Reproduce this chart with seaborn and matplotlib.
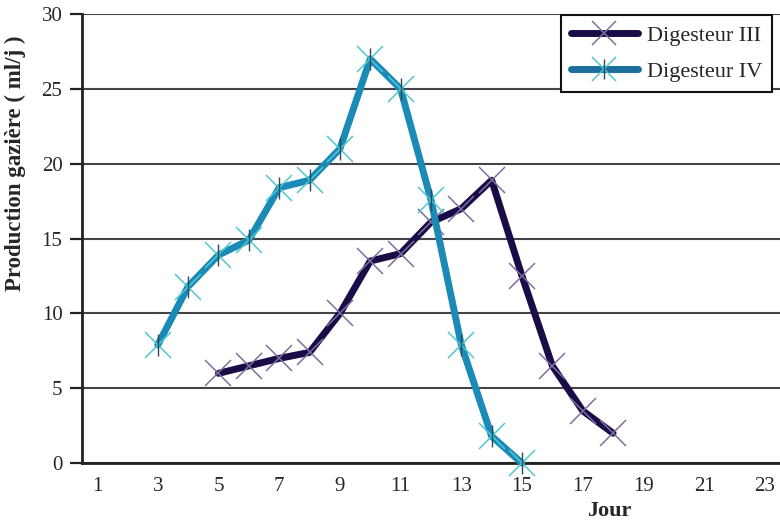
import numpy as np
import pandas as pd
import matplotlib
matplotlib.use("Agg")
import matplotlib.pyplot as plt
import seaborn as sns
from matplotlib.lines import Line2D
from matplotlib.legend_handler import HandlerTuple

# values
days_iii = [5, 6, 7, 8, 9, 10, 11, 12, 13, 14, 15, 16, 17, 18]
prod_iii = [6, 6.5, 7, 7.4, 10, 13.5, 14, 16.1, 17, 18.9, 12.5, 6.5, 3.5, 2]
days_iv = [3, 4, 5, 6, 7, 8, 9, 10, 11, 12, 13, 14, 15]
prod_iv = [7.9, 11.8, 13.9, 14.9, 18.4, 18.9, 21, 27, 25, 17.6, 7.9, 1.8, 0]
x_labels = [1, 3, 5, 7, 9, 11, 13, 15, 17, 19, 21, 23]

df_iii = pd.DataFrame({"Jour": days_iii, "Production": prod_iii})
df_iv = pd.DataFrame({"Jour": days_iv, "Production": prod_iv})

sns.set_style("white")
plt.rcParams["font.family"] = ["Liberation Serif", "DejaVu Serif"]

fig = plt.figure(figsize=(7.8, 5.21), dpi=100)
ax = fig.add_axes([0.105, 0.111, 0.895, 0.862])

col_iii, mk_iii = "#1b0c48", "#7e6fa0"
col_iv, mk_iv = "#1c8ab6", "#4ec8d2"

sns.lineplot(data=df_iii, x="Jour", y="Production", ax=ax, color=col_iii, lw=5,
             marker="x", markersize=19, markeredgewidth=1.1, markeredgecolor=mk_iii,
             clip_on=False, zorder=3)
sns.lineplot(data=df_iv, x="Jour", y="Production", ax=ax, color=col_iv, lw=5,
             marker="x", markersize=19, markeredgewidth=1.1, markeredgecolor=mk_iv,
             clip_on=False, zorder=4)
ax.plot(df_iv["Jour"], df_iv["Production"], ls="none", marker="|", markersize=16,
        markeredgewidth=1.0, color="#2a4a58", clip_on=False, zorder=5)

ax.set_xlim(0.5, 23.39)
ax.set_ylim(0, 30)
ax.set_yticks(np.arange(0, 31, 5))
ax.set_xticks(x_labels)
ax.set_xticks(np.arange(0.5, 24, 1), minor=True)
ax.tick_params(axis="x", which="major", length=0, pad=10, labelsize=15)
ax.tick_params(axis="x", which="minor", length=9, width=1.6, color="#222222", direction="out")
ax.tick_params(axis="y", length=9, width=1.6, color="#222222", pad=5, labelsize=15, left=True)

ax.grid(axis="y", color="#444444", lw=1.5)
ax.grid(axis="x", visible=False)
for s in ["top", "right"]:
    ax.spines[s].set_visible(False)
for s in ["left", "bottom"]:
    ax.spines[s].set_color("#222222")
    ax.spines[s].set_linewidth(2)
ax.set_axisbelow(True)

ax.set_ylabel("Production gazière ( ml/j )", fontsize=16.5, fontweight="bold")
ax.yaxis.set_label_coords(-0.08, 0.668)
ax.set_xlabel("Jour", fontsize=16, fontweight="bold")
ax.xaxis.set_label_coords(0.756, -0.085)

h_iii = Line2D([], [], color=col_iii, lw=5, marker="x", markersize=17,
               markeredgewidth=1.1, markeredgecolor=mk_iii)
h_iv = Line2D([], [], color="#1a6f9c", lw=5, marker="x", markersize=17,
              markeredgewidth=1.1, markeredgecolor=mk_iv)
h_iv_bar = Line2D([], [], ls="none", marker="|", markersize=15,
                  markeredgewidth=1.0, color="#2a4a58")
leg = ax.legend([h_iii, (h_iv, h_iv_bar)], ["Digesteur III", "Digesteur IV"],
                handler_map={tuple: HandlerTuple(ndivide=1)},
                loc="upper right", bbox_to_anchor=(0.9885, 0.997), borderaxespad=0,
                fontsize=16, handlelength=3.0, fancybox=False, framealpha=1,
                edgecolor="#111111", borderpad=0.45, labelspacing=0.7, handletextpad=0.4)
leg.get_frame().set_linewidth(1.5)

fig.savefig("out.png", dpi=100)
